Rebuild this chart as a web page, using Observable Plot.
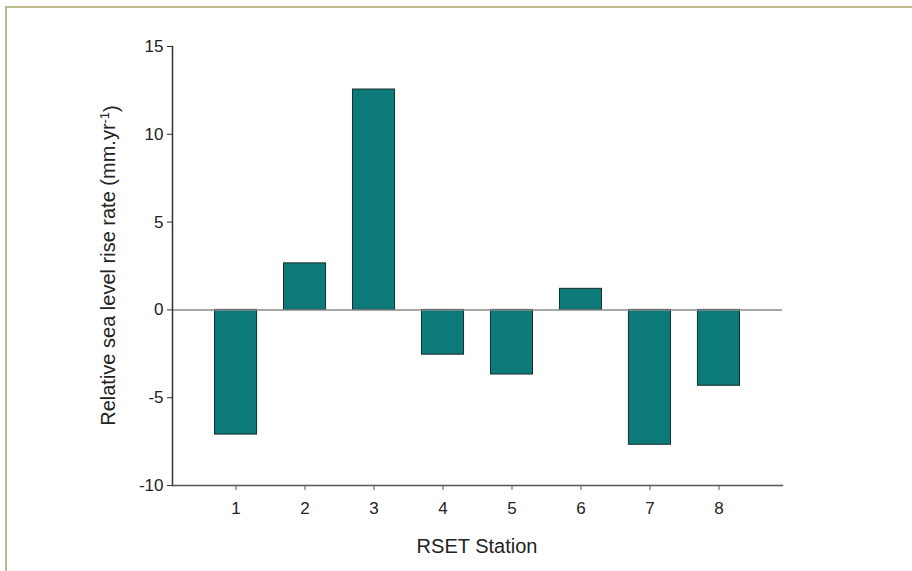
<!DOCTYPE html>
<html><head><meta charset="utf-8">
<script src="https://cdn.jsdelivr.net/npm/d3@7"></script>
<script src="https://cdn.jsdelivr.net/npm/@observablehq/plot@0.6"></script>
<style>
html,body{margin:0;padding:0;background:#fff;}
#wrap{position:relative;width:912px;height:571px;overflow:hidden;background:#fff;}
#frame{position:absolute;left:5px;top:6px;width:930px;height:590px;border-top:2px solid #bdb98e;border-left:2px solid #bdb98e;pointer-events:none;}
</style></head><body><div id="wrap"><div id="frame"></div></div>
<script>
const stations = ["1","2","3","4","5","6","7","8"];
const rates = [-7.1, 2.65, 12.55, -2.55, -3.68, 1.2, -7.68, -4.32];
const yTicks = [-10, -5, 0, 5, 10, 15];
const xLabel = "RSET Station";
const yLabel = "Relative sea level rise rate (mm.yr";
const yLabelSup = "-1";
const yLabelEnd = ")";

const data = stations.map((s, i) => ({station: s, rate: rates[i]}));
const font = "'Liberation Sans', Arial, sans-serif";

const chart = Plot.plot({
  width: 912, height: 571,
  marginLeft: 172, marginRight: 130, marginTop: 46, marginBottom: 86,
  style: {fontFamily: font, fontSize: "17px", color: "#222", background: "transparent"},
  x: {domain: stations, paddingInner: 0.39, paddingOuter: 0.616, round: false, label: null},
  y: {domain: [-10, 15], ticks: yTicks, label: null},
  marks: [
    Plot.barY(data, {x: "station", y: "rate", fill: "#0c7a79", stroke: "#1b2a2a", strokeWidth: 1}),
    Plot.ruleY([0], {stroke: "#8a8a8a", strokeWidth: 1.5}),
    Plot.frame({anchor: "left", stroke: "#333", strokeWidth: 1.5}),
    Plot.frame({anchor: "bottom", stroke: "#555", strokeWidth: 1.5}),
    Plot.axisY({ticks: yTicks, tickSize: 5, tickPadding: 4, stroke: "#333", fontSize: 17,
                tickFormat: d => String(d), label: null}),
    Plot.axisX({tickSize: 5, tickPadding: 11, stroke: "#555", fontSize: 17, label: null})
  ]
});

const svg = d3.select(chart);
svg.selectAll("g[aria-label$='tick label'] text").style("font-size", "17px");
const xs = chart.scale("x").range;
const ys = chart.scale("y").range;
svg.append("text")
  .attr("x", (xs[0] + xs[1]) / 2).attr("y", 553)
  .attr("text-anchor", "middle")
  .style("font-family", font).style("font-size", "20px").attr("fill", "#222")
  .text(xLabel);
const yl = svg.append("text")
  .attr("transform", `translate(115,${(ys[0] + ys[1]) / 2}) rotate(-90)`)
  .attr("text-anchor", "middle")
  .style("font-family", font).style("font-size", "20px").attr("fill", "#222");
yl.append("tspan").text(yLabel);
yl.append("tspan").attr("dy", "-0.45em").style("font-size", "13px").text(yLabelSup);
yl.append("tspan").attr("dy", "0.45em").text(yLabelEnd);

document.getElementById("wrap").prepend(chart);
</script>
</body></html>
